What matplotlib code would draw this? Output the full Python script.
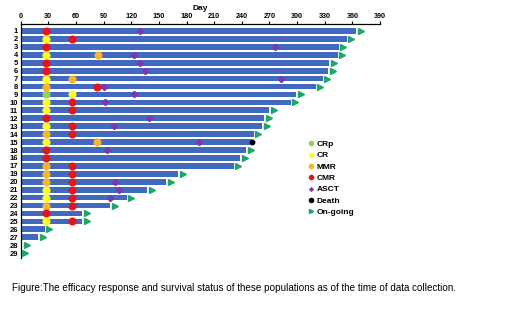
import matplotlib.pyplot as plt
from matplotlib.lines import Line2D

plt.rcParams['font.family'] = ['Liberation Sans', 'DejaVu Sans']

# row labels (top to bottom) and follow-up days
labels = ['1', '2', '3', '4', '5', '6', '7', '8', '9', '10', '11', '12', '13', '14', '15',
          '18', '16', '17', '19', '20', '21', '22', '23', '24', '25', '26', '27', '28', '29']
days = [364, 354, 345, 344, 335, 334, 328, 320, 299, 293, 270, 264, 262, 253, 251,
        245, 238, 231, 171, 158, 137, 115, 97, 67, 67, 26, 19, 1.5, 0]
dead = ['15']

crp_rows = ['9']
crp_days = [28]
cr_rows = ['2', '4', '7', '10', '11', '13', '15', '21', '22', '25', '9']
cr_days = [28, 28, 28, 28, 28, 28, 28, 28, 28, 28, 56]
mmr_rows = ['8', '14', '17', '19', '20', '23', '4', '7', '15']
mmr_days = [28, 28, 28, 28, 28, 28, 84, 56, 83]
cmr_rows = ['1', '3', '5', '6', '12', '18', '16', '24',
            '2', '10', '11', '13', '14', '17', '19', '20', '21', '22', '23', '25', '8']
cmr_days = [28, 28, 28, 28, 28, 28, 28, 28,
            56, 56, 56, 56, 56, 56, 56, 56, 56, 56, 56, 56, 83]
asct_rows = ['1', '3', '4', '5', '6', '7', '8', '9', '10', '12', '13', '15', '18', '20', '21', '22']
asct_days = [129, 276, 123, 129, 135, 282, 90, 123, 91, 139, 101, 194, 94, 102, 107, 97]

c_bar = '#4169bd'
c_crp = '#8fcf6a'
c_cr = '#ffff1a'
c_mmr = '#f5b62a'
c_cmr = '#e8141c'
c_asct = '#7a3aa8'
c_go = '#1fa66a'

fig = plt.figure(figsize=(5.2, 3.2), dpi=100)
ax = fig.add_axes([0.0398, 0.194, 0.691, 0.731])

ypos = list(range(1, len(labels) + 1))
row = {lab: i + 1 for i, lab in enumerate(labels)}

ax.barh(ypos, days, height=0.72, color=c_bar, zorder=1)


def pts(rows, ds, **kw):
    ax.plot(ds, [row[r] for r in rows], linestyle='none', zorder=3, **kw)


pts(crp_rows, crp_days, marker='o', ms=4.8, color=c_crp)
pts(cr_rows, cr_days, marker='o', ms=4.8, color=c_cr)
pts(mmr_rows, mmr_days, marker='o', ms=4.8, color=c_mmr)
pts(cmr_rows, cmr_days, marker='o', ms=4.8, color=c_cmr)
pts(asct_rows, asct_days, marker='D', ms=3.2, color=c_asct)

alive = [i for i, lab in enumerate(labels) if lab not in dead]
ax.plot([days[i] + 5 for i in alive], [ypos[i] for i in alive], linestyle='none',
        marker='>', ms=4.8, color=c_go, zorder=3)
dd = [labels.index(d) for d in dead]
ax.plot([days[i] for i in dd], [ypos[i] for i in dd], linestyle='none',
        marker='o', ms=3.2, color='black', zorder=3)

ax.set_xlim(0, 390)
ax.set_ylim(29.6, 0.12)
ax.set_xticks(range(0, 391, 30))
ax.set_yticks(ypos)
ax.set_yticklabels(labels)
ax.xaxis.tick_top()
ax.xaxis.set_label_position('top')
ax.set_xlabel('Day', fontsize=6, fontweight='bold', labelpad=2)
ax.tick_params(axis='x', labelsize=5.2, length=2, width=0.8, pad=1)
ax.tick_params(axis='y', labelsize=5.5, length=0, pad=2)
for t in ax.get_xticklabels() + ax.get_yticklabels():
    t.set_fontweight('bold')
for s in ['right', 'bottom']:
    ax.spines[s].set_visible(False)
ax.spines['top'].set_linewidth(0.9)
ax.spines['left'].set_linewidth(0.9)

handles = [
    Line2D([], [], linestyle='none', marker='o', ms=3, color=c_crp, label='CRp'),
    Line2D([], [], linestyle='none', marker='o', ms=3, color=c_cr, label='CR'),
    Line2D([], [], linestyle='none', marker='o', ms=3, color=c_mmr, label='MMR'),
    Line2D([], [], linestyle='none', marker='o', ms=3, color=c_cmr, label='CMR'),
    Line2D([], [], linestyle='none', marker='D', ms=1.8, color=c_asct, label='ASCT'),
    Line2D([], [], linestyle='none', marker='o', ms=3, color='black', label='Death'),
    Line2D([], [], linestyle='none', marker='>', ms=3, color=c_go, label='On-going'),
]
leg = fig.legend(handles=handles, loc='upper left', bbox_to_anchor=(0.578, 0.585),
                 frameon=False, prop={'size': 6, 'weight': 'bold'},
                 handlelength=0.6, handletextpad=0.4, labelspacing=0.42)

fig.text(0.023, 0.09, 'Figure:The efficacy response and survival status of these populations '
         'as of the time of data collection.', fontsize=7.1)

fig.savefig('out.png', dpi=100)
